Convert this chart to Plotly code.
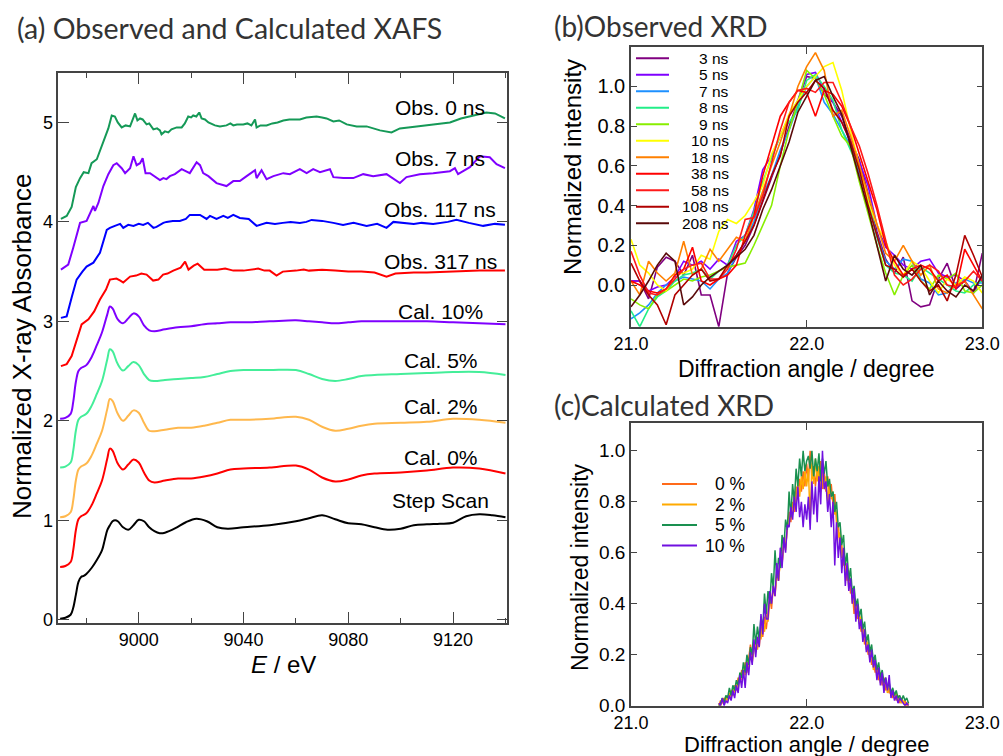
import plotly.graph_objects as go

W, H = 1003, 756
def PX(x): return x / W
def PY(y): return 1 - y / H

ARIAL = "Liberation Sans, Arial, sans-serif"
TITLEF = "Lato, Open Sans, sans-serif"

# ---------------- (a) XAFS data ----------------
E_step = [8970, 8972, 8974, 8975, 8976, 8977, 8978, 8979, 8980, 8982, 8984, 8986, 8987, 8988, 8989, 8990, 8991, 8992,
          8994, 8996, 8998, 9000, 9002, 9004, 9006, 9008, 9010, 9014, 9018, 9022, 9026, 9030, 9034, 9040, 9050, 9060,
          9065, 9070, 9075, 9080, 9085, 9090, 9095, 9100, 9105, 9110, 9115, 9120, 9125, 9130, 9135, 9140]
step_scan = [0.01, 0.02, 0.05, 0.12, 0.25, 0.38, 0.43, 0.44, 0.46, 0.52, 0.60, 0.70, 0.80, 0.90, 0.95, 0.99, 1.00, 0.99,
             0.93, 0.905, 0.95, 1.005, 0.99, 0.93, 0.89, 0.87, 0.875, 0.92, 0.98, 1.015, 0.99, 0.93, 0.915, 0.93, 0.95, 0.99,
             1.02, 1.05, 1.01, 0.97, 0.96, 0.93, 0.905, 0.915, 0.95, 0.96, 0.965, 0.975, 1.04, 1.06, 1.05, 1.03]

E_cal = [8970, 8972, 8974, 8975, 8976, 8977, 8978, 8980, 8982, 8984, 8986, 8988, 8989, 8990, 8992, 8994, 8996, 8998,
         9000, 9002, 9004, 9006, 9010, 9015, 9020, 9025, 9030, 9035, 9040, 9050, 9060, 9065, 9070, 9075, 9080, 9085,
         9090, 9100, 9110, 9120, 9130, 9140]
cal_0 = [0.53, 0.54, 0.58, 0.70, 0.90, 1.01, 1.04, 1.07, 1.15, 1.27, 1.40, 1.62, 1.72, 1.70, 1.57, 1.51, 1.56, 1.61,
         1.58, 1.48, 1.40, 1.38, 1.40, 1.42, 1.42, 1.44, 1.47, 1.51, 1.52, 1.53, 1.55, 1.51, 1.43, 1.39, 1.41, 1.45,
         1.47, 1.48, 1.50, 1.53, 1.52, 1.47]
cal_2 = [1.03, 1.04, 1.08, 1.20, 1.40, 1.51, 1.54, 1.57, 1.65, 1.77, 1.90, 2.12, 2.22, 2.20, 2.07, 2.00, 2.05, 2.105,
         2.08, 1.98, 1.90, 1.895, 1.91, 1.93, 1.93, 1.95, 1.98, 2.01, 2.01, 2.02, 2.04, 2.01, 1.94, 1.90, 1.92, 1.95,
         1.97, 1.98, 1.99, 2.02, 2.01, 1.98]
cal_5 = [1.53, 1.54, 1.58, 1.70, 1.90, 2.01, 2.04, 2.07, 2.15, 2.27, 2.40, 2.62, 2.72, 2.70, 2.57, 2.505, 2.55, 2.59,
         2.56, 2.47, 2.41, 2.40, 2.41, 2.42, 2.43, 2.44, 2.47, 2.50, 2.51, 2.51, 2.51, 2.47, 2.42, 2.40, 2.42, 2.45,
         2.46, 2.47, 2.48, 2.49, 2.49, 2.46]
cal_10 = [2.02, 2.03, 2.07, 2.19, 2.39, 2.50, 2.53, 2.56, 2.64, 2.76, 2.89, 3.07, 3.15, 3.13, 3.02, 2.98, 3.03, 3.08,
          3.05, 2.96, 2.91, 2.90, 2.92, 2.94, 2.95, 2.97, 2.98, 2.99, 2.99, 3.00, 3.01, 3.00, 2.99, 2.98, 2.99, 3.00,
          3.00, 3.00, 3.00, 2.99, 2.98, 2.97]

E_obs0 = [8970.3, 8972.5, 8974.4, 8976.0, 8977.6, 8979.0, 8980.8, 8982.0, 8984.0, 8985.9, 8987.1, 8988.4, 8989.7,
          8990.9, 8992.0, 8993.5, 8995.0, 8996.7, 8998.6, 8999.5, 9000.5, 9001.5, 9003.0, 9004.0, 9005.6, 9007.0,
          9008.1, 9008.7, 9010.0, 9011.3, 9012.5, 9014.5, 9016.4, 9017.6, 9018.9, 9020.0, 9020.8, 9022.0, 9023.1,
          9024.0, 9025.3, 9026.6, 9029.1, 9031.0, 9033.5, 9035.0, 9036.1, 9037.5, 9039.9, 9041.5, 9043.0, 9044.4,
          9045.0, 9046.5, 9048.8, 9051.0, 9053.0, 9055.2, 9057.5, 9061.5, 9064.0, 9067.9, 9070.0, 9071.7, 9074.3,
          9076.5, 9079.4, 9083.2, 9087.0, 9092.1, 9096.5, 9099.7, 9106.1, 9112.4, 9118.8, 9123.0, 9127.6, 9132.7,
          9136.0, 9139.8]
obs_0 = [4.03, 4.06, 4.15, 4.35, 4.44, 4.50, 4.49, 4.59, 4.63, 4.76, 4.86, 4.94, 5.07, 5.06, 5.00, 4.95, 4.97, 4.96,
         5.09, 5.02, 5.04, 5.03, 4.98, 4.99, 4.93, 4.94, 4.92, 4.88, 4.91, 4.90, 4.93, 4.95, 4.95, 4.99, 5.06, 5.05,
         5.07, 5.06, 5.10, 5.04, 5.03, 5.00, 4.97, 4.96, 4.97, 4.99, 4.97, 4.98, 4.98, 4.99, 4.97, 5.03, 4.95, 4.97,
         4.97, 4.99, 5.00, 5.02, 5.03, 5.03, 5.05, 5.06, 5.05, 5.04, 5.01, 5.02, 4.98, 4.96, 4.96, 4.92, 4.90, 4.94,
         4.96, 4.98, 5.00, 5.04, 5.07, 5.10, 5.09, 5.04]

E_obs7 = [8970.3, 8973.1, 8975.0, 8977.6, 8980.1, 8981.4, 8982.7, 8983.3, 8984.6, 8986.5, 8988.4, 8990.3, 8991.6,
          8993.5, 8994.8, 8996.7, 8998.0, 8999.2, 9000.5, 9001.5, 9002.6, 9004.3, 9006.8, 9008.1, 9009.4, 9010.6,
          9011.9, 9013.8, 9016.4, 9019.5, 9022.1, 9023.4, 9024.6, 9026.6, 9029.7, 9033.5, 9036.1, 9038.6, 9041.2,
          9044.4, 9045.0, 9046.9, 9048.8, 9051.4, 9055.2, 9057.7, 9061.5, 9064.1, 9066.6, 9069.2, 9073.0, 9074.3,
          9078.1, 9081.9, 9085.7, 9089.5, 9094.6, 9099.7, 9102.2, 9107.3, 9112.4, 9118.8, 9120.7, 9121.9, 9126.4,
          9130.2, 9134.0, 9136.6, 9139.8]
obs_7 = [3.52, 3.57, 3.74, 3.99, 4.01, 4.09, 4.16, 4.11, 4.19, 4.36, 4.48, 4.57, 4.59, 4.54, 4.49, 4.54, 4.66, 4.57,
         4.59, 4.64, 4.49, 4.49, 4.44, 4.42, 4.44, 4.43, 4.46, 4.48, 4.53, 4.49, 4.60, 4.57, 4.49, 4.46, 4.39, 4.36,
         4.41, 4.41, 4.46, 4.52, 4.44, 4.52, 4.43, 4.46, 4.49, 4.48, 4.53, 4.49, 4.53, 4.50, 4.53, 4.45, 4.44, 4.44,
         4.48, 4.46, 4.48, 4.39, 4.45, 4.48, 4.49, 4.51, 4.54, 4.48, 4.55, 4.66, 4.65, 4.58, 4.54]

E_obs117 = [8970.3, 8972.5, 8974.5, 8976.3, 8978.5, 8980.1, 8982.7, 8985.2, 8987.8, 8989.0, 8990.9, 8992.9, 8994.1,
            8996.0, 8998.0, 9000.0, 9001.7, 9003.5, 9005.6, 9006.8, 9009.4, 9010.6, 9013.0, 9015.7, 9018.0, 9019.5,
            9023.4, 9025.9, 9027.2, 9029.7, 9032.3, 9034.0, 9036.1, 9038.6, 9042.0, 9045.0, 9048.8, 9052.0, 9055.0,
            9058.0, 9061.5, 9064.0, 9066.0, 9070.0, 9074.3, 9078.0, 9082.0, 9087.0, 9091.0, 9094.6, 9097.2, 9101.0,
            9105.0, 9108.0, 9112.4, 9118.0, 9121.3, 9126.0, 9131.5, 9136.0, 9139.8]
obs_117 = [3.035, 3.05, 3.25, 3.42, 3.50, 3.55, 3.59, 3.69, 3.92, 3.94, 3.96, 3.98, 3.94, 3.97, 3.96, 3.98, 3.97, 3.99,
           3.94, 3.95, 3.99, 4.00, 4.01, 4.01, 4.03, 4.07, 4.07, 4.03, 4.06, 4.03, 4.06, 4.04, 4.07, 4.04, 4.03, 3.96,
           3.99, 3.98, 3.99, 4.00, 3.99, 4.00, 4.02, 4.01, 3.99, 3.97, 3.99, 3.96, 3.98, 3.94, 4.00, 3.99, 3.98, 3.99,
           3.98, 4.00, 4.02, 3.99, 3.96, 3.98, 3.97]

E_obs317 = [8970.3, 8972.5, 8974.4, 8976.3, 8978.2, 8980.8, 8983.0, 8985.2, 8987.5, 8989.0, 8991.5, 8993.0, 8994.1,
            8996.7, 8999.0, 9001.0, 9003.0, 9005.5, 9007.5, 9009.3, 9011.0, 9013.2, 9016.0, 9017.7, 9019.0, 9021.0,
            9022.5, 9025.0, 9030.0, 9033.0, 9036.1, 9040.0, 9043.0, 9045.6, 9048.0, 9050.0, 9052.6, 9055.0, 9060.0,
            9063.0, 9065.0, 9070.0, 9075.0, 9080.0, 9085.0, 9090.0, 9094.6, 9098.0, 9105.0, 9110.0, 9120.0, 9130.0,
            9139.8]
obs_317 = [2.55, 2.57, 2.65, 2.80, 2.97, 3.02, 3.10, 3.22, 3.32, 3.42, 3.43, 3.41, 3.39, 3.45, 3.46, 3.48, 3.47, 3.41,
           3.42, 3.47, 3.48, 3.51, 3.54, 3.60, 3.52, 3.56, 3.58, 3.52, 3.52, 3.53, 3.51, 3.51, 3.52, 3.53, 3.51, 3.51,
           3.46, 3.50, 3.51, 3.52, 3.51, 3.52, 3.51, 3.50, 3.50, 3.49, 3.45, 3.48, 3.49, 3.49, 3.50, 3.51, 3.51]

xafs_labels = ["Obs. 0 ns", "Obs. 7 ns", "Obs. 117 ns", "Obs. 317 ns", "Cal. 10%", "Cal. 5%", "Cal. 2%", "Cal. 0%", "Step Scan"]
xafs_label_E = [9115, 9115, 9115, 9115.3, 9115.3, 9115.5, 9115.3, 9115.3, 9115.3]
xafs_label_y = [5.15, 4.64, 4.125, 3.605, 3.10, 2.605, 2.14, 1.627, 1.20]

# ---------------- (b) observed XRD ----------------
angle_b = [21.00, 21.05, 21.10, 21.15, 21.20, 21.25, 21.30, 21.35, 21.40, 21.45, 21.50, 21.55, 21.60, 21.65, 21.70,
           21.75, 21.80, 21.85, 21.90, 21.95, 22.00, 22.05, 22.10, 22.15, 22.20, 22.25, 22.30, 22.35, 22.40, 22.45,
           22.50, 22.55, 22.60, 22.65, 22.70, 22.75, 22.80, 22.85, 22.90, 22.95, 23.00]
xrd_3ns = [0.02, 0.02, -0.07, 0.09, 0.14, 0.12, 0.05, 0.15, -0.05, -0.05, -0.21, 0.06, 0.14, 0.20, 0.30, 0.42, 0.54,
           0.66, 0.80, 0.92, 1.05, 1.04, 0.96, 0.92, 0.85, 0.73, 0.63, 0.46, 0.27, 0.13, 0.06, 0.14, -0.08, -0.11,
           -0.10, 0.03, 0.11, -0.02, 0.02, -0.04, 0.16]
xrd_5ns = [0.02, 0.02, -0.03, -0.01, 0.00, 0.04, 0.12, 0.10, 0.12, 0.08, 0.13, 0.10, 0.22, 0.25, 0.38, 0.58, 0.65,
           0.75, 0.85, 0.93, 1.06, 1.07, 0.98, 0.92, 0.82, 0.72, 0.62, 0.50, 0.30, 0.19, 0.15, 0.10, 0.08, 0.12, 0.13,
           0.06, 0.04, 0.05, 0.02, -0.04, 0.04]
xrd_7ns = [-0.17, -0.14, -0.10, -0.04, 0.00, 0.02, 0.04, 0.03, 0.02, -0.02, 0.03, 0.06, 0.15, 0.22, 0.32, 0.45, 0.55,
           0.68, 0.78, 0.90, 1.00, 1.05, 0.92, 0.86, 0.78, 0.70, 0.56, 0.42, 0.25, 0.12, 0.08, 0.13, 0.12, 0.03, 0.01,
           -0.05, -0.04, 0.01, 0.03, 0.01, 0.01]
xrd_8ns = [-0.13, -0.21, -0.12, -0.06, -0.03, 0.02, 0.05, 0.06, 0.08, 0.03, 0.07, 0.10, 0.20, 0.25, 0.37, 0.52, 0.64,
           0.75, 0.82, 0.88, 1.03, 1.06, 1.00, 0.93, 0.78, 0.68, 0.58, 0.42, 0.24, 0.10, 0.06, 0.05, 0.02, 0.09, 0.06,
           0.03, 0.00, -0.03, -0.04, 0.00, 0.02]
xrd_9ns = [-0.07, -0.10, -0.12, -0.05, -0.03, 0.00, 0.03, 0.02, 0.04, 0.05, 0.07, 0.09, 0.10, 0.11, 0.20, 0.30, 0.40,
           0.60, 0.78, 0.92, 1.08, 1.04, 0.96, 0.85, 0.75, 0.70, 0.52, 0.36, 0.20, 0.06, -0.05, 0.05, 0.10, 0.02,
           -0.02, 0.05, 0.03, 0.06, -0.03, -0.04, 0.00]
xrd_10ns = [0.23, 0.10, 0.06, 0.00, -0.03, 0.05, 0.06, 0.08, 0.15, 0.13, 0.27, 0.33, 0.31, 0.35, 0.42, 0.50, 0.66,
            0.75, 0.86, 0.93, 1.00, 1.05, 1.10, 1.12, 0.98, 0.78, 0.60, 0.42, 0.30, 0.22, 0.10, 0.05, 0.12, 0.09, 0.02,
            -0.04, 0.03, 0.00, 0.04, 0.02, -0.04]
xrd_18ns = [0.02, -0.05, 0.12, 0.06, 0.02, 0.06, 0.22, 0.05, 0.08, 0.18, 0.12, 0.18, 0.24, 0.22, 0.35, 0.48, 0.60,
            0.72, 0.85, 1.00, 1.10, 1.17, 1.08, 0.85, 0.88, 0.75, 0.60, 0.45, 0.30, 0.16, 0.12, 0.20, 0.12, 0.05, 0.10,
            -0.02, -0.04, 0.00, 0.02, -0.05, -0.12]
xrd_38ns = [0.02, 0.00, -0.03, -0.04, -0.02, 0.05, 0.08, 0.19, 0.02, 0.00, 0.03, 0.05, 0.10, 0.25, 0.35, 0.55, 0.70,
            0.85, 0.92, 0.98, 0.97, 0.85, 0.98, 0.96, 0.90, 0.80, 0.66, 0.52, 0.38, 0.20, 0.12, 0.05, 0.08, 0.10, 0.08,
            0.02, 0.05, -0.02, 0.18, 0.10, 0.02]
xrd_58ns = [0.17, 0.05, -0.04, -0.05, -0.02, 0.03, 0.08, 0.10, 0.11, 0.03, 0.03, 0.08, 0.18, 0.33, 0.34, 0.45, 0.62,
            0.78, 0.92, 0.98, 0.99, 0.97, 1.02, 1.02, 0.92, 0.80, 0.70, 0.56, 0.40, 0.22, 0.05, 0.00, 0.03, 0.08, 0.10,
            0.07, 0.00, -0.01, 0.02, 0.07, 0.02]
xrd_108ns = [0.11, 0.02, -0.05, -0.10, -0.20, -0.05, 0.00, 0.05, 0.08, 0.02, 0.03, 0.10, 0.15, 0.22, 0.30, 0.42, 0.55,
             0.65, 0.85, 0.92, 0.97, 1.03, 0.99, 0.88, 0.82, 0.72, 0.58, 0.40, 0.25, 0.10, 0.08, 0.04, 0.08, 0.02,
             -0.03, 0.00, -0.08, 0.05, 0.25, 0.15, 0.04]
xrd_208ns = [-0.11, -0.05, 0.02, 0.10, 0.16, 0.12, -0.10, -0.06, 0.00, 0.04, 0.07, 0.10, 0.14, 0.18, 0.25, 0.38, 0.48,
             0.60, 0.72, 0.87, 0.95, 1.03, 1.05, 0.95, 0.86, 0.70, 0.55, 0.38, 0.20, 0.02, 0.15, 0.08, 0.05, 0.10,
             -0.05, 0.02, -0.03, -0.06, 0.00, -0.03, 0.05]
obs_xrd_labels = ["3 ns", "5 ns", "7 ns", "8 ns", "9 ns", "10 ns", "18 ns", "38 ns", "58 ns", "108 ns", "208 ns"]
obs_xrd_values = [xrd_3ns, xrd_5ns, xrd_7ns, xrd_8ns, xrd_9ns, xrd_10ns, xrd_18ns, xrd_38ns, xrd_58ns, xrd_108ns, xrd_208ns]
obs_xrd_colors = ["#800080", "#7f00ff", "#1e90ff", "#22ee88", "#88ee00", "#ffff00", "#ff8000", "#ff0000", "#ff1a1a",
                  "#b00000", "#5a0a0a"]

# ---------------- (c) calculated XRD ----------------
angle_c = [21.50, 21.51, 21.52, 21.53, 21.54, 21.55, 21.56, 21.57, 21.58, 21.59,
           21.60, 21.61, 21.62, 21.63, 21.64, 21.65, 21.66, 21.67, 21.68, 21.69,
           21.70, 21.71, 21.72, 21.73, 21.74, 21.75, 21.76, 21.77, 21.78, 21.79,
           21.80, 21.81, 21.82, 21.83, 21.84, 21.85, 21.86, 21.87, 21.88, 21.89,
           21.90, 21.91, 21.92, 21.93, 21.94, 21.95, 21.96, 21.97, 21.98, 21.99,
           22.00, 22.01, 22.02, 22.03, 22.04, 22.05, 22.06, 22.07, 22.08, 22.09,
           22.10, 22.11, 22.12, 22.13, 22.14, 22.15, 22.16, 22.17, 22.18, 22.19,
           22.20, 22.21, 22.22, 22.23, 22.24, 22.25, 22.26, 22.27, 22.28, 22.29,
           22.30, 22.31, 22.32, 22.33, 22.34, 22.35, 22.36, 22.37, 22.38, 22.39,
           22.40, 22.41, 22.42, 22.43, 22.44, 22.45, 22.46, 22.47, 22.48, 22.49,
           22.50, 22.51, 22.52, 22.53, 22.54, 22.55, 22.56, 22.57, 22.58]
calc_0 = [0.00, 0.02, 0.01, 0.03, 0.02, 0.04, 0.03, 0.06, 0.04, 0.08,
          0.06, 0.11, 0.09, 0.14, 0.11, 0.17, 0.13, 0.20, 0.24, 0.18,
          0.24, 0.21, 0.27, 0.23, 0.31, 0.27, 0.35, 0.30, 0.38, 0.43,
          0.38, 0.47, 0.43, 0.52, 0.49, 0.58, 0.55, 0.66, 0.61, 0.71,
          0.76, 0.72, 0.80, 0.76, 0.86, 0.81, 0.89, 0.84, 0.92, 0.86,
          0.95, 0.88, 1.00, 0.89, 0.94, 0.86, 0.93, 0.88, 0.96, 0.85,
          0.92, 0.84, 0.90, 0.82, 0.87, 0.79, 0.83, 0.72, 0.71, 0.62,
          0.63, 0.55, 0.57, 0.49, 0.53, 0.44, 0.46, 0.36, 0.41, 0.34,
          0.36, 0.29, 0.32, 0.24, 0.27, 0.20, 0.23, 0.16, 0.19, 0.13,
          0.15, 0.10, 0.13, 0.08, 0.11, 0.06, 0.08, 0.05, 0.06, 0.03,
          0.05, 0.02, 0.04, 0.01, 0.03, 0.01, 0.02, 0.00, 0.01]
calc_2 = [0.01, 0.00, 0.02, 0.01, 0.03, 0.02, 0.05, 0.03, 0.07, 0.05,
          0.09, 0.07, 0.12, 0.10, 0.15, 0.12, 0.18, 0.15, 0.21, 0.17,
          0.22, 0.25, 0.22, 0.29, 0.26, 0.33, 0.29, 0.37, 0.33, 0.41,
          0.41, 0.46, 0.44, 0.53, 0.49, 0.57, 0.56, 0.64, 0.62, 0.70,
          0.72, 0.77, 0.75, 0.83, 0.79, 0.88, 0.82, 0.90, 0.85, 0.92,
          0.86, 0.93, 0.72, 0.95, 0.87, 0.97, 0.88, 0.94, 0.84, 0.92,
          0.85, 0.90, 0.80, 0.87, 0.81, 0.84, 0.75, 0.76, 0.66, 0.68,
          0.58, 0.60, 0.52, 0.55, 0.46, 0.50, 0.40, 0.44, 0.35, 0.38,
          0.32, 0.35, 0.27, 0.30, 0.22, 0.25, 0.18, 0.21, 0.14, 0.17,
          0.11, 0.14, 0.09, 0.12, 0.07, 0.09, 0.05, 0.07, 0.04, 0.06,
          0.03, 0.05, 0.02, 0.03, 0.01, 0.02, 0.00, 0.01, 0.00]
calc_5 = [0.00, 0.01, 0.03, 0.01, 0.04, 0.03, 0.07, 0.04, 0.08, 0.06,
          0.10, 0.08, 0.13, 0.11, 0.17, 0.13, 0.20, 0.16, 0.23, 0.20,
          0.32, 0.24, 0.31, 0.26, 0.35, 0.30, 0.44, 0.36, 0.45, 0.40,
          0.52, 0.46, 0.61, 0.50, 0.58, 0.54, 0.67, 0.62, 0.73, 0.69,
          0.84, 0.74, 0.87, 0.80, 0.93, 0.86, 0.97, 0.90, 1.00, 0.92,
          0.96, 0.98, 0.93, 1.00, 0.90, 0.97, 0.92, 0.99, 0.88, 0.97,
          0.91, 0.96, 0.86, 0.89, 0.82, 0.84, 0.76, 0.80, 0.70, 0.72,
          0.63, 0.67, 0.55, 0.60, 0.49, 0.54, 0.44, 0.47, 0.39, 0.42,
          0.35, 0.38, 0.30, 0.33, 0.25, 0.28, 0.21, 0.24, 0.17, 0.20,
          0.14, 0.17, 0.11, 0.14, 0.09, 0.11, 0.07, 0.09, 0.05, 0.07,
          0.04, 0.06, 0.03, 0.04, 0.02, 0.04, 0.02, 0.03, 0.01]
calc_10 = [0.01, 0.00, 0.03, 0.00, 0.02, 0.01, 0.04, 0.02, 0.06, 0.03,
           0.08, 0.05, 0.12, 0.07, 0.14, 0.07, 0.17, 0.12, 0.21, 0.16,
           0.26, 0.19, 0.27, 0.23, 0.36, 0.28, 0.40, 0.34, 0.34, 0.45,
           0.40, 0.47, 0.43, 0.56, 0.49, 0.62, 0.54, 0.66, 0.60, 0.71,
           0.70, 0.78, 0.73, 0.82, 0.76, 0.86, 0.74, 0.80, 0.70, 0.79,
           0.73, 0.82, 0.69, 0.88, 0.75, 0.86, 0.72, 0.90, 0.79, 1.00,
           0.85, 0.88, 0.76, 0.83, 0.70, 0.80, 0.55, 0.72, 0.58, 0.66,
           0.52, 0.62, 0.47, 0.56, 0.45, 0.50, 0.40, 0.46, 0.33, 0.40,
           0.30, 0.34, 0.25, 0.30, 0.21, 0.24, 0.17, 0.22, 0.15, 0.18,
           0.10, 0.15, 0.08, 0.13, 0.05, 0.11, 0.06, 0.12, 0.03, 0.06,
           0.02, 0.04, 0.01, 0.03, 0.02, 0.01, 0.00, 0.01, 0.00]
calc_labels = ["0 %", "2 %", "5 %", "10 %"]
calc_values = [calc_0, calc_2, calc_5, calc_10]
calc_colors = ["#ff6a1a", "#ffaa00", "#1a9050", "#7010e0"]

# ---------------- figure ----------------
fig = go.Figure()

xafs_series = [
    (E_step, step_scan, "black", "spline"),
    (E_cal, cal_0, "#ff0000", "spline"),
    (E_cal, cal_2, "#ffb84d", "spline"),
    (E_cal, cal_5, "#44ee99", "spline"),
    (E_cal, cal_10, "#7f00ff", "spline"),
    (E_obs317, obs_317, "#ff0000", "linear"),
    (E_obs117, obs_117, "#0000ff", "linear"),
    (E_obs7, obs_7, "#7f00ff", "linear"),
    (E_obs0, obs_0, "#159957", "linear"),
]
for ex, vy, col, shp in xafs_series:
    fig.add_trace(go.Scatter(x=ex, y=vy, mode="lines", line=dict(color=col, width=2, shape=shp),
                             xaxis="x", yaxis="y", showlegend=False, hoverinfo="skip"))

for vals, col in zip(obs_xrd_values, obs_xrd_colors):
    fig.add_trace(go.Scatter(x=angle_b, y=vals, mode="lines", line=dict(color=col, width=1.6),
                             xaxis="x2", yaxis="y2", showlegend=False, hoverinfo="skip"))

for vals, col in zip(calc_values, calc_colors):
    fig.add_trace(go.Scatter(x=angle_c, y=vals, mode="lines", line=dict(color=col, width=1.5),
                             xaxis="x3", yaxis="y3", showlegend=False, hoverinfo="skip"))

frame = "#444444"
def ax(domain, rng, anchor, ticklen, fs, **kw):
    d = dict(domain=domain, range=rng, anchor=anchor, showline=True, linecolor=frame, linewidth=1.6,
             mirror="allticks", ticks="inside", ticklen=ticklen, tickwidth=1.4, tickcolor=frame,
             showgrid=False, zeroline=False, automargin=False,
             tickfont=dict(family=ARIAL, size=fs, color="black"))
    d.update(kw)
    return d

fig.update_layout(
    template="none",
    width=W, height=H, margin=dict(l=0, r=0, t=0, b=0, autoexpand=False),
    paper_bgcolor="white", plot_bgcolor="white", showlegend=False,
    xaxis=ax([PX(58.3), PX(507.3)], [8969.3, 9140.7], "y", 11, 18, tick0=9000, dtick=40,
             minor=dict(dtick=20, ticks="inside", ticklen=5, tickcolor=frame, tickwidth=1.4)),
    yaxis=ax([PY(622.7), PY(72.7)], [-0.03, 5.5], "x", 11, 18, tickvals=[0, 1, 2, 3, 4, 5]),
    xaxis2=ax([PX(631), PX(982.3)], [21, 23], "y2", 7, 18, tickvals=[21, 22, 23], tickformat=".1f"),
    yaxis2=ax([PY(326.7), PY(46.7)], [-0.21, 1.2], "x2", 6, 20, tickvals=[0, 0.2, 0.4, 0.6, 0.8, 1.0], tickformat=".1f"),
    xaxis3=ax([PX(631), PX(982.3)], [21, 23], "y3", 7, 18, tickvals=[21, 22, 23], tickformat=".1f"),
    yaxis3=ax([PY(705.7), PY(423.3)], [0, 1.108], "x3", 6, 19, tickvals=[0, 0.2, 0.4, 0.6, 0.8, 1.0], tickformat=".1f"),
)

ann = []
def note(text, x, y, size, family=ARIAL, color="black", xanchor="center", angle=0):
    ann.append(dict(text=text, x=PX(x), y=PY(y), xref="paper", yref="paper", xanchor=xanchor, yanchor="middle",
                    textangle=angle, showarrow=False, font=dict(family=family, size=size, color=color)))

# panel titles
note("(a) Observed and Calculated XAFS", 15, 28, 28.5, TITLEF, "#333333", "left")
note("(b)Observed XRD", 552, 26, 28, TITLEF, "#333333", "left")
note("(c)Calculated XRD", 552, 405, 28, TITLEF, "#333333", "left")
# axis titles
note("Normalized X-ray Absorbance", 22, 347, 26, angle=-90)
note("<i>E</i> / eV", 283, 664, 24)
note("Diffraction angle / degree", 806, 369, 23)
note("Diffraction angle / degree", 806, 744, 22)
note("Normalized intensity", 572, 167, 24, angle=-90)
note("Normalized intensity", 580, 567, 23, angle=-90)

# XAFS curve labels
for t, ex, vy in zip(xafs_labels, xafs_label_E, xafs_label_y):
    ann.append(dict(text=t, x=ex, y=vy, xref="x", yref="y", xanchor="center", yanchor="middle", showarrow=False,
                    font=dict(family=ARIAL, size=21, color="black")))

shapes = []
# legend (b)
for i, (lab, col) in enumerate(zip(obs_xrd_labels, obs_xrd_colors)):
    yy = 58.3 + 16.5 * i
    shapes.append(dict(type="line", xref="paper", yref="paper", x0=PX(636), x1=PX(669), y0=PY(yy), y1=PY(yy),
                       line=dict(color=col, width=2)))
    note(lab, 731, yy, 15.5, xanchor="right")
# legend (c)
for i, (lab, col) in enumerate(zip(calc_labels, calc_colors)):
    yy = 484 + 20.5 * i
    shapes.append(dict(type="line", xref="paper", yref="paper", x0=PX(662), x1=PX(697), y0=PY(yy), y1=PY(yy),
                       line=dict(color=col, width=2)))
    note(lab, 747, yy, 17.5, xanchor="right")

fig.update_layout(annotations=ann, shapes=shapes)
fig.write_html("out.html")
